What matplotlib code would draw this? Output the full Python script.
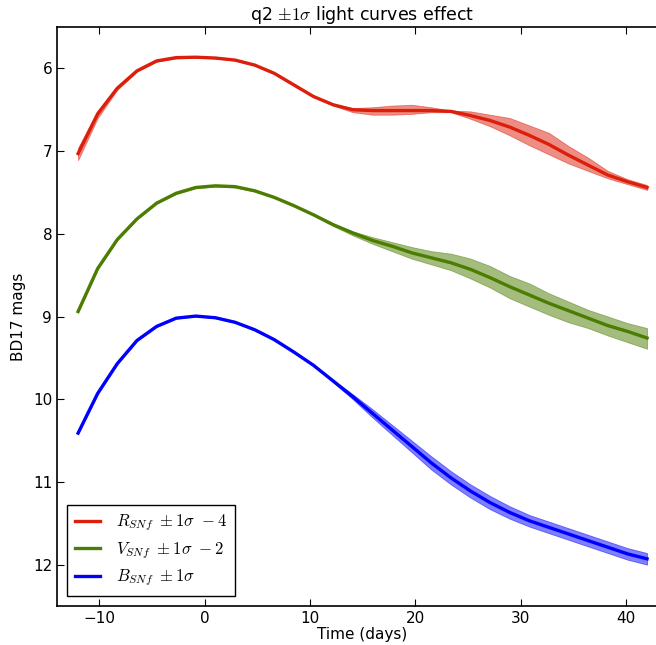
import matplotlib
matplotlib.use("Agg")
import matplotlib.pyplot as plt

# Rest-frame epochs (days from B-band maximum)
time_days = [-12.00, -10.14, -8.28, -6.41, -4.55, -2.69, -0.83, 1.03, 2.90, 4.76,
             6.62, 8.48, 10.34, 12.21, 14.07, 15.93, 17.79, 19.66, 21.52, 23.38,
             25.24, 27.10, 28.97, 30.83, 32.69, 34.55, 36.41, 38.28, 40.14, 42.00]

# R_SNf (offset by -4): central curve and +/-1 sigma envelope
r_mag = [7.03, 6.55, 6.24, 6.03, 5.91, 5.87, 5.865, 5.875, 5.90, 5.96,
         6.06, 6.20, 6.34, 6.44, 6.50, 6.51, 6.51, 6.51, 6.51, 6.52,
         6.57, 6.63, 6.71, 6.81, 6.92, 7.05, 7.17, 7.29, 7.37, 7.44]
r_lo = [6.96, 6.51, 6.22, 6.02, 5.90, 5.86, 5.86, 5.87, 5.895, 5.955,
        6.055, 6.195, 6.335, 6.43, 6.48, 6.47, 6.45, 6.44, 6.47, 6.51,
        6.52, 6.56, 6.60, 6.69, 6.78, 6.94, 7.08, 7.24, 7.34, 7.41]
r_hi = [7.11, 6.60, 6.26, 6.04, 5.92, 5.88, 5.87, 5.88, 5.905, 5.965,
        6.065, 6.205, 6.345, 6.45, 6.53, 6.56, 6.56, 6.55, 6.53, 6.53,
        6.61, 6.70, 6.81, 6.93, 7.04, 7.15, 7.24, 7.33, 7.40, 7.47]

# V_SNf (offset by -2)
v_mag = [8.94, 8.42, 8.07, 7.82, 7.63, 7.51, 7.44, 7.42, 7.43, 7.48,
         7.56, 7.66, 7.77, 7.89, 7.99, 8.08, 8.15, 8.23, 8.29, 8.35,
         8.43, 8.53, 8.64, 8.74, 8.84, 8.93, 9.02, 9.11, 9.18, 9.26]
v_lo = [8.93, 8.41, 8.065, 7.815, 7.625, 7.50, 7.43, 7.41, 7.42, 7.47,
        7.555, 7.655, 7.76, 7.875, 7.97, 8.04, 8.10, 8.16, 8.21, 8.24,
        8.30, 8.39, 8.51, 8.60, 8.72, 8.82, 8.92, 9.00, 9.08, 9.14]
v_hi = [8.95, 8.43, 8.075, 7.825, 7.635, 7.52, 7.45, 7.43, 7.44, 7.49,
        7.565, 7.665, 7.78, 7.905, 8.02, 8.12, 8.21, 8.30, 8.37, 8.44,
        8.54, 8.65, 8.78, 8.88, 8.98, 9.07, 9.14, 9.23, 9.31, 9.39]

# B_SNf
b_mag = [10.41, 9.93, 9.57, 9.29, 9.12, 9.02, 8.995, 9.015, 9.07, 9.16,
         9.28, 9.43, 9.59, 9.78, 9.97, 10.17, 10.37, 10.57, 10.77, 10.95,
         11.11, 11.25, 11.37, 11.47, 11.55, 11.63, 11.71, 11.79, 11.87, 11.93]
b_lo = [10.40, 9.92, 9.565, 9.285, 9.115, 9.015, 8.99, 9.01, 9.065, 9.155,
        9.275, 9.425, 9.585, 9.765, 9.94, 10.12, 10.31, 10.50, 10.69, 10.87,
        11.03, 11.17, 11.295, 11.40, 11.48, 11.56, 11.64, 11.72, 11.80, 11.86]
b_hi = [10.42, 9.94, 9.575, 9.295, 9.125, 9.025, 9.00, 9.02, 9.075, 9.165,
        9.285, 9.435, 9.595, 9.795, 10.00, 10.22, 10.43, 10.64, 10.85, 11.03,
        11.19, 11.33, 11.445, 11.54, 11.62, 11.70, 11.78, 11.86, 11.94, 12.00]

band_labels = [r"$R_{SNf}\ \pm1\sigma\ -4$",
               r"$V_{SNf}\ \pm1\sigma\ -2$",
               r"$B_{SNf}\ \pm1\sigma$"]
band_colors = ["#dc1e0a", "#4a7d00", "#0000ff"]

plt.rcParams["mathtext.fontset"] = "cm"
plt.rcParams["font.family"] = "DejaVu Sans"

fig = plt.figure(figsize=(6.56, 6.45), dpi=100)
# the right spine sits just past the edge of the canvas
ax = fig.add_axes([0.0869, 0.0605, 0.930, 0.8976])

series = [(r_mag, r_lo, r_hi), (v_mag, v_lo, v_hi), (b_mag, b_lo, b_hi)]
for (mag, lo, hi), col, lab in zip(series, band_colors, band_labels):
    ax.fill_between(time_days, lo, hi, color=col, alpha=0.5, linewidth=0.6,
                    edgecolor=col)
    ax.plot(time_days, mag, color=col, linewidth=2.4, label=lab)

ax.set_xlim(-14, 43.9)
ax.set_ylim(12.5, 5.5)
ax.set_xticks([-10, 0, 10, 20, 30, 40])
ax.set_yticks([6, 7, 8, 9, 10, 11, 12])
ax.tick_params(direction="in", top=True, right=True, length=5, width=0.8,
               labelsize=11, pad=3.5)
for sp in ax.spines.values():
    sp.set_linewidth(1.2)

ax.set_xlabel("Time (days)", fontsize=11, labelpad=1)
ax.set_ylabel("BD17 mags", fontsize=11, labelpad=5)
ax.set_title(r"q2 $\pm1\sigma$ light curves effect", fontsize=12.5, pad=5)

leg = ax.legend(loc="lower left", fontsize=12, fancybox=False, framealpha=1,
                edgecolor="black", handlelength=1.5, handletextpad=1.0,
                labelspacing=0.4, borderpad=0.45,
                borderaxespad=0.6)
leg.get_frame().set_linewidth(1.0)

fig.savefig("out.png", dpi=100)
